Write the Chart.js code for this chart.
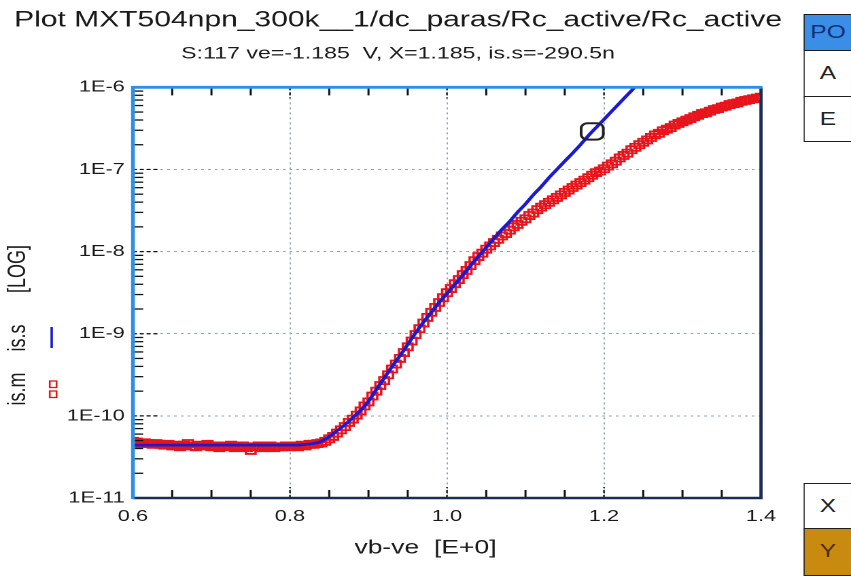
<!DOCTYPE html>
<html><head><meta charset="utf-8">
<script src="https://cdn.jsdelivr.net/npm/chart.js@4.4.1/dist/chart.umd.min.js"></script>
<style>
html,body{margin:0;padding:0;background:#fff;overflow:hidden;width:851px;height:576px;}
#wrap{position:absolute;left:0;top:0;width:626px;height:576px;transform:scaleX(1.3594);transform-origin:0 0;}
#c{position:absolute;left:0;top:0;width:626px;height:576px;}
.btn{position:absolute;left:591.4px;width:35.4px;box-sizing:border-box;border:1.5px solid #1d1d1d;font:18px "Liberation Sans",Arial,sans-serif;color:#222;display:flex;align-items:center;justify-content:center;}
</style></head>
<body>
<div id="wrap">
<canvas id="c" width="626" height="576"></canvas>
<div class="btn" style="top:14px;height:37px;background:#3a8ee6;color:#0f3278;">PO</div>
<div class="btn" style="top:49.5px;height:48px;background:#fff;">A</div>
<div class="btn" style="top:96px;height:46px;background:#fff;">E</div>
<div class="btn" style="top:483px;height:46px;background:#fff;">X</div>
<div class="btn" style="top:527.5px;height:48px;background:#c98a10;color:#4a2e08;">Y</div>
</div>
<script>
// ---------- data ----------
const titleText = 'Plot MXT504npn_300k__1/dc_paras/Rc_active/Rc_active';
const subtitleText = 'S:117 ve=-1.185  V, X=1.185, is.s=-290.5n';
const xAxisTitle = 'vb-ve  [E+0]';
const yAxisWords = ['is.m', 'is.s', '[LOG]'];

const xTickValues = [0.6, 0.8, 1.0, 1.2, 1.4];
const xTickLabels = ['0.6', '0.8', '1.0', '1.2', '1.4'];
const xMinorTicks = [0.65, 0.70, 0.75, 0.85, 0.90, 0.95, 1.05, 1.10, 1.15, 1.25, 1.30, 1.35];
const yTickValues = [1e-11, 1e-10, 1e-9, 1e-8, 1e-7, 1e-6];
const yTickLabels = ['1E-11', '1E-10', '1E-9', '1E-8', '1E-7', '1E-6'];
const yMinorMantissas = [2, 3, 4, 5, 6, 7, 8, 9];

// measured is.m (red squares)
const vbMeas = [0.600,0.605,0.610,0.615,0.620,0.625,0.630,0.635,0.640,0.645,0.650,0.655,0.660,0.665,0.670,0.675,0.680,0.685,0.690,0.695,
0.700,0.705,0.710,0.715,0.720,0.725,0.730,0.735,0.740,0.745,0.750,0.755,0.760,0.765,0.770,0.775,0.780,0.785,0.790,0.795,
0.800,0.805,0.810,0.815,0.820,0.825,0.830,0.835,0.840,0.845,0.850,0.855,0.860,0.865,0.870,0.875,0.880,0.885,0.890,0.895,
0.900,0.905,0.910,0.915,0.920,0.925,0.930,0.935,0.940,0.945,0.950,0.955,0.960,0.965,0.970,0.975,0.980,0.985,0.990,0.995,
1.000,1.005,1.010,1.015,1.020,1.025,1.030,1.035,1.040,1.045,1.050,1.055,1.060,1.065,1.070,1.075,1.080,1.085,1.090,1.095,
1.100,1.105,1.110,1.115,1.120,1.125,1.130,1.135,1.140,1.145,1.150,1.155,1.160,1.165,1.170,1.175,1.180,1.185,1.190,1.195,
1.200,1.205,1.210,1.215,1.220,1.225,1.230,1.235,1.240,1.245,1.250,1.255,1.260,1.265,1.270,1.275,1.280,1.285,1.290,1.295,
1.300,1.305,1.310,1.315,1.320,1.325,1.330,1.335,1.340,1.345,1.350,1.355,1.360,1.365,1.370,1.375,1.380,1.385,1.390,1.395,1.400];
const isMeas = [
4.9e-11,4.8e-11,4.6e-11,4.7e-11,4.6e-11,4.5e-11,4.6e-11,4.5e-11,4.4e-11,4.5e-11,
4.3e-11,4.4e-11,4.2e-11,4.4e-11,4.6e-11,4.3e-11,4.2e-11,4.4e-11,4.3e-11,4.5e-11,
4.2e-11,4.3e-11,4.1e-11,4.3e-11,4.2e-11,4.4e-11,4.1e-11,4.2e-11,4.3e-11,4.1e-11,
3.8e-11,4.2e-11,4.3e-11,4.1e-11,4.2e-11,4.3e-11,4.1e-11,4.2e-11,4.2e-11,4.3e-11,
4.2e-11,4.3e-11,4.2e-11,4.4e-11,4.3e-11,4.5e-11,4.5e-11,4.6e-11,
4.68e-11,4.90e-11,5.25e-11,5.62e-11,6.17e-11,6.76e-11,7.41e-11,8.32e-11,9.12e-11,1.02e-10,
1.15e-10,1.32e-10,1.48e-10,1.74e-10,2.00e-10,2.34e-10,2.69e-10,3.16e-10,3.72e-10,4.27e-10,
5.01e-10,5.89e-10,6.92e-10,8.13e-10,9.77e-10,1.15e-9,1.35e-9,1.58e-9,1.82e-9,2.09e-9,
2.40e-9,2.75e-9,3.16e-9,3.55e-9,4.07e-9,4.57e-9,5.25e-9,5.89e-9,6.76e-9,7.76e-9,
8.71e-9,9.55e-9,1.07e-8,1.17e-8,1.29e-8,1.41e-8,1.55e-8,1.66e-8,1.82e-8,2.00e-8,
2.14e-8,2.34e-8,2.51e-8,2.75e-8,2.95e-8,3.24e-8,3.47e-8,3.72e-8,3.98e-8,4.27e-8,
4.57e-8,4.90e-8,5.25e-8,5.62e-8,6.03e-8,6.46e-8,6.92e-8,7.41e-8,7.94e-8,8.51e-8,
9.12e-8,9.55e-8,1.02e-7,1.10e-7,1.17e-7,1.26e-7,1.38e-7,1.48e-7,1.58e-7,1.74e-7,
1.86e-7,2.00e-7,2.14e-7,2.29e-7,2.45e-7,2.63e-7,2.75e-7,2.95e-7,3.09e-7,3.24e-7,
3.47e-7,3.63e-7,3.80e-7,3.98e-7,4.17e-7,4.37e-7,4.57e-7,4.79e-7,4.90e-7,5.13e-7,
5.37e-7,5.50e-7,5.75e-7,5.89e-7,6.17e-7,6.31e-7,6.46e-7,6.76e-7,6.92e-7,7.08e-7,
7.24e-7,7.41e-7,7.59e-7];

// simulated is.s (blue line)
const vbSim = [0.60,0.61,0.62,0.63,0.64,0.65,0.66,0.67,0.68,0.69,0.70,0.71,0.72,0.73,0.74,0.75,0.76,0.77,0.78,0.79,
0.80,0.81,0.82,0.83,0.84,0.85,0.86,0.87,0.88,0.89,0.90,0.91,0.92,0.93,0.94,0.95,0.96,0.97,0.98,0.99,
1.00,1.01,1.02,1.03,1.04,1.05,1.06,1.07,1.08,1.09,1.10,1.11,1.12,1.13,1.14,1.15,1.16,1.17,1.18,1.19,
1.20,1.21,1.22,1.23,1.24,1.25];
const isSim = [4.4e-11,4.4e-11,4.4e-11,4.4e-11,4.4e-11,4.4e-11,4.4e-11,4.4e-11,4.4e-11,4.4e-11,
4.4e-11,4.4e-11,4.4e-11,4.4e-11,4.4e-11,4.4e-11,4.4e-11,4.4e-11,4.4e-11,4.4e-11,
4.4e-11,4.4e-11,4.5e-11,4.6e-11,4.9e-11,5.6e-11,6.6e-11,7.8e-11,9.5e-11,1.17e-10,
1.51e-10,2.09e-10,2.88e-10,3.98e-10,5.37e-10,7.41e-10,1.02e-9,1.38e-9,1.82e-9,2.40e-9,
3.09e-9,3.98e-9,5.13e-9,6.76e-9,8.71e-9,1.12e-8,1.45e-8,1.86e-8,2.34e-8,3.02e-8,
3.80e-8,4.90e-8,6.17e-8,7.94e-8,1.00e-7,1.26e-7,1.58e-7,2.00e-7,2.57e-7,3.24e-7,
4.07e-7,5.13e-7,6.46e-7,8.13e-7,1.02e-6,1.29e-6];

// cursor (from subtitle)
const cursorX = 1.185;
const cursorY = 2.905e-7;

// ---------- drawing ----------
const FONT = '"Liberation Sans", Arial, Helvetica, sans-serif';

const decor = {
  id: 'decor',
  afterDatasetsDraw(chart) {
    const {ctx, chartArea: a, scales: {x, y}} = chart;
    ctx.save();
    ctx.strokeStyle = '#111';
    ctx.lineWidth = 1.2;
    ctx.setLineDash([3, 2]);
    yTickValues.forEach(v => {
      const py = y.getPixelForValue(v);
      if (py > a.top + 2 && py < a.bottom - 2) {
        ctx.beginPath(); ctx.moveTo(a.left, py); ctx.lineTo(a.left + 20, py); ctx.stroke();
      }
    });
    xTickValues.forEach(v => {
      const px = x.getPixelForValue(v);
      if (px > a.left + 2 && px < a.right - 2) {
        ctx.beginPath();
        ctx.moveTo(px, a.bottom); ctx.lineTo(px, a.bottom - 11);
        ctx.moveTo(px, a.top); ctx.lineTo(px, a.top + 11);
        ctx.stroke();
      }
    });
    ctx.setLineDash([]);
    ctx.lineWidth = 1.5;
    xMinorTicks.forEach(v => {
      const px = x.getPixelForValue(v);
      ctx.beginPath();
      ctx.moveTo(px, a.bottom); ctx.lineTo(px, a.bottom - 8);
      ctx.moveTo(px, a.top); ctx.lineTo(px, a.top + 8);
      ctx.stroke();
    });
    ctx.lineWidth = 1.3;
    yTickValues.slice(0, -1).forEach(d => {
      yMinorMantissas.forEach(m => {
        const py = y.getPixelForValue(m * d);
        ctx.beginPath(); ctx.moveTo(a.left, py); ctx.lineTo(a.left + 7.5, py); ctx.stroke();
      });
    });
    // frame
    ctx.lineWidth = 2.4;
    ctx.strokeStyle = '#1b2d52';
    ctx.beginPath();
    ctx.moveTo(a.left, a.bottom); ctx.lineTo(a.right, a.bottom); ctx.lineTo(a.right, a.top);
    ctx.stroke();
    ctx.lineWidth = 2.8;
    ctx.strokeStyle = '#2f8fe6';
    ctx.beginPath();
    ctx.moveTo(a.left, a.bottom + 1); ctx.lineTo(a.left, a.top); ctx.lineTo(a.right + 1, a.top);
    ctx.stroke();
    ctx.restore();
  },
  afterDraw(chart) {
    const {ctx} = chart;
    ctx.save();
    ctx.fillStyle = '#1a1a1a';
    ctx.textAlign = 'center';
    ctx.textBaseline = 'middle';
    // x axis title
    ctx.font = '19.5px ' + FONT;
    ctx.fillText(xAxisTitle, 313, 548);
    // y axis title words (rotated)
    ctx.font = '18px ' + FONT;
    const yPos = [389, 338, 269];
    yAxisWords.forEach((w, i) => {
      ctx.save();
      ctx.translate(13.5, yPos[i]);
      ctx.rotate(-Math.PI / 2);
      ctx.fillText(w, 0, 0);
      ctx.restore();
    });
    // legend glyphs
    ctx.strokeStyle = '#1a1ad0';
    ctx.lineWidth = 1.8;
    ctx.beginPath(); ctx.moveTo(38, 327); ctx.lineTo(38, 348); ctx.stroke();
    ctx.strokeStyle = '#e3141c';
    ctx.lineWidth = 1.3;
    ctx.strokeRect(36.6, 381, 5, 6.5);
    ctx.strokeRect(36.6, 391, 5, 6.5);
    ctx.restore();
  }
};

new Chart(document.getElementById('c'), {
  type: 'line',
  data: {
    datasets: [
      {label: 'cursor', data: [{x: cursorX, y: cursorY}], showLine: false, pointStyle: 'rectRounded',
       pointRadius: 9.5, pointBorderColor: '#222', pointBorderWidth: 2, pointBackgroundColor: 'rgba(0,0,0,0)'},
      {label: 'is.s', data: vbSim.map((v, i) => ({x: v, y: isSim[i]})), borderColor: '#1a1ad0',
       borderWidth: 2.8, pointRadius: 0, cubicInterpolationMode: 'monotone', fill: false},
      {label: 'is.m', data: vbMeas.map((v, i) => ({x: v, y: isMeas[i]})), showLine: false, pointStyle: 'rect',
       pointRadius: 5, pointBorderColor: '#e8141c', pointBorderWidth: 1.8, pointBackgroundColor: 'rgba(0,0,0,0)'}
    ]
  },
  options: {
    responsive: false,
    animation: false,
    devicePixelRatio: 2,
    events: [],
    layout: {padding: {top: 3, left: 9.8, right: 50.2, bottom: 0}},
    plugins: {
      legend: {display: false},
      tooltip: {enabled: false},
      title: {display: true, text: titleText, color: '#1a1a1a',
              font: {family: FONT, size: 22.1, weight: 'normal', lineHeight: 1.2}, padding: {top: 4, bottom: 2}},
      subtitle: {display: true, text: subtitleText, color: '#1a1a1a',
                 font: {family: FONT, size: 17, weight: 'normal', lineHeight: 1.2}, padding: {top: 8, bottom: 23.4}}
    },
    scales: {
      x: {
        type: 'linear', min: 0.6, max: 1.4,
        afterBuildTicks: ax => { ax.ticks = xTickValues.map(v => ({value: v})); },
        afterFit: s => { s.height = 78; },
        ticks: {callback: (v, i) => xTickLabels[i], font: {family: FONT, size: 16}, color: '#1a1a1a',
                padding: 9, maxRotation: 0, autoSkip: false},
        grid: {color: '#93a2b6', lineWidth: 1, drawTicks: false},
        border: {display: false, dash: [2, 3]}
      },
      y: {
        type: 'logarithmic', min: 1e-11, max: 1e-6,
        afterBuildTicks: ax => { ax.ticks = yTickValues.map(v => ({value: v})); },
        afterFit: s => { s.width = 88; },
        ticks: {callback: (v, i) => yTickLabels[i], font: {family: FONT, size: 16}, color: '#1a1a1a',
                padding: 6, autoSkip: false},
        grid: {color: '#93a2b6', lineWidth: 1, drawTicks: false},
        border: {display: false, dash: [2, 3]}
      },
      yRight: {
        type: 'linear', position: 'right', display: true,
        afterFit: s => { s.width = 16; },
        ticks: {display: false},
        grid: {display: false, drawTicks: false},
        border: {display: false}
      }
    }
  },
  plugins: [decor]
});
</script>
</body></html>
